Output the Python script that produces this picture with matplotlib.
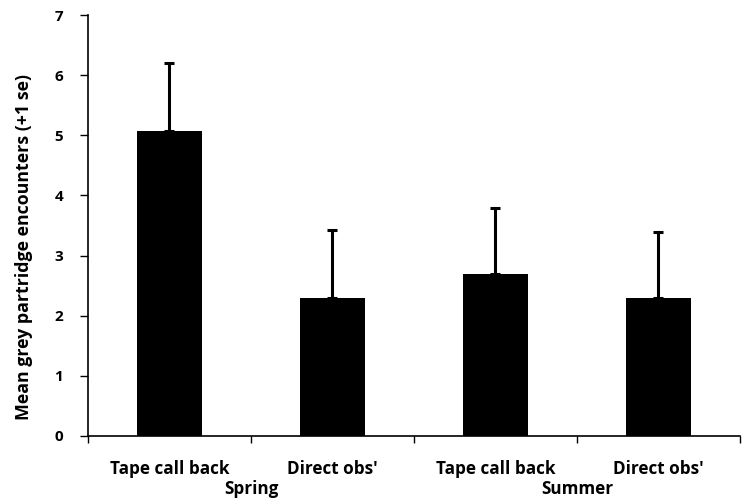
import matplotlib
matplotlib.use("Agg")
import matplotlib.pyplot as plt
import numpy as np

categories = ["Tape call back", "Direct obs'", "Tape call back", "Direct obs'"]
means = [5.08, 2.30, 2.70, 2.30]
se = [1.13, 1.12, 1.10, 1.10]
seasons = ["Spring", "Summer"]
season_pos = [1.0, 3.0]
yticks = [0, 1, 2, 3, 4, 5, 6, 7]

plt.rcParams['font.family'] = ['Open Sans', 'DejaVu Sans']
plt.rcParams['font.weight'] = 'bold'

fig = plt.figure(figsize=(7.42, 5.04), dpi=100)
ax = fig.add_axes([0.1186, 0.135, 0.8785, 0.835])

x = np.arange(len(categories)) + 0.5
ax.bar(x, means, width=0.4, color='black', zorder=2)
ax.errorbar(x, means, yerr=[np.zeros(len(se)), se], fmt='none', ecolor='black',
            elinewidth=2.2, capsize=3.8, capthick=2.2, zorder=1)

ax.set_xlim(0, 4)
ax.set_ylim(0, 7)
ax.set_yticks(yticks)
ax.set_yticklabels([str(t) for t in yticks], fontsize=11, fontweight='bold')
ax.set_xticks([0, 1, 2, 3, 4])
ax.set_xticklabels([])
ax.set_xticks(x, minor=True)
ax.set_xticklabels(categories, minor=True, fontsize=12.3, fontweight='bold')
ax.tick_params(axis='x', which='minor', length=0, pad=17)
ax.tick_params(axis='x', which='major', length=5, width=1, direction='out')
ax.tick_params(axis='y', length=6, width=1, direction='out', pad=12)

for s, p in zip(seasons, season_pos):
    ax.text(p, -0.105, s, transform=ax.get_xaxis_transform(), ha='center', va='top',
            fontsize=12.3, fontweight='bold')

ax.set_ylabel("Mean grey partridge encounters (+1 se)", fontsize=12.8, fontweight='bold')
ax.yaxis.set_label_coords(-0.085, 0.449)

for sp in ['top', 'right']:
    ax.spines[sp].set_visible(False)
for sp in ['left', 'bottom']:
    ax.spines[sp].set_linewidth(1.2)

fig.savefig("out.png", dpi=100)
